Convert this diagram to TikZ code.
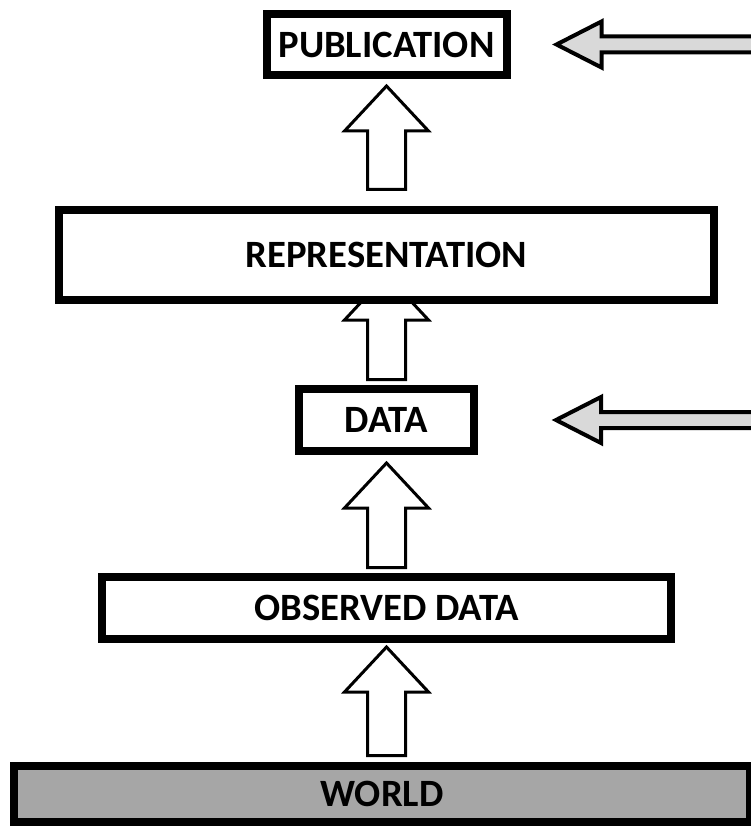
\documentclass[tikz,border=0pt]{standalone}
\usepackage{fontspec}
\setmainfont{Carlito}
\usetikzlibrary{positioning, calc, backgrounds}
\definecolor{worldgray}{HTML}{A6A6A6}
\definecolor{feedgray}{HTML}{D9D9D9}
\def\shaftW{0.475cm}
\def\headW{1.05cm}
\def\headL{1.125cm}
\def\feedShaft{0.2cm}
\def\feedHead{0.575cm}
\def\feedLen{1.125cm}
% hollow up arrow: #1 = foot, #2 = tip
\newcommand{\upArrow}[2]{
  \draw[hollow] let \p1=#1, \p2=#2 in
    (\x2-\shaftW,\y1) -- (\x2-\shaftW,\y2-\headL) -- (\x2-\headW,\y2-\headL) -- (\x2,\y2)
    -- (\x2+\headW,\y2-\headL) -- (\x2+\shaftW,\y2-\headL) -- (\x2+\shaftW,\y1) -- cycle;
}
% grey left arrow: #1 = source, #2 = tip
\newcommand{\leftArrow}[2]{
  \draw[feed] let \p1=#1, \p2=#2 in
    (\x1,\y2+\feedShaft) -- (\x2+\feedLen,\y2+\feedShaft) -- (\x2+\feedLen,\y2+\feedHead) -- (\x2,\y2)
    -- (\x2+\feedLen,\y2-\feedHead) -- (\x2+\feedLen,\y2-\feedShaft) -- (\x1,\y2-\feedShaft) -- cycle;
}
\tikzset{
  stage/.style={rectangle, draw=black, line width=0.2cm, fill=white, inner sep=0pt,
    font=\bfseries\fontsize{27.5}{32}\selectfont},
  hollow/.style={draw=black, fill=white, line width=0.075cm, line join=miter},
  feed/.style={draw=black, fill=feedgray, line width=0.1cm, line join=miter}
}
\begin{document}
\begin{tikzpicture}
  \useasboundingbox (0,0) rectangle (18.775,-20.65);
  \clip (0,0) rectangle (18.775,-20.65);

  \node[stage, minimum width=6cm, minimum height=1.525cm] (pub) at (9.6625,-1.1125) {PUBLICATION};
  \node[stage, minimum width=16.375cm, minimum height=2.25cm, below=3.175cm of pub] (rep) {REPRESENTATION};
  \node[stage, minimum width=4.375cm, minimum height=1.55cm, below=2.025cm of rep] (data) {DATA};
  \node[stage, minimum width=14.225cm, minimum height=1.55cm, below=2.95cm of data] (obs) {OBSERVED DATA};
  \node[stage, fill=worldgray, minimum width=18.4cm, minimum height=1.4cm, below=2.975cm of obs, xshift=-0.1125cm] (world) {WORLD};

  \coordinate (pubtip) at ([xshift=1.15cm]pub.east);
  \coordinate (pubsrc) at ([xshift=9cm]pub.east);
  \coordinate (datatip) at ([xshift=1.95cm]data.east);
  \coordinate (datasrc) at ([xshift=9cm]data.east);

  \begin{scope}[on background layer]
    \upArrow{([yshift=0.4125cm]rep.north)}{([yshift=-0.175cm]pub.south)}
    \upArrow{([yshift=0.1375cm]data.north)}{([yshift=0.725cm]rep.south)}
    \upArrow{([yshift=0.1375cm]obs.north)}{([yshift=-0.2cm]data.south)}
    \upArrow{([yshift=0.1625cm,xshift=0.1125cm]world.north)}{([yshift=-0.1cm]obs.south)}
  \end{scope}

  \leftArrow{(pubsrc)}{(pubtip)}
  \leftArrow{(datasrc)}{(datatip)}
\end{tikzpicture}
\end{document}
